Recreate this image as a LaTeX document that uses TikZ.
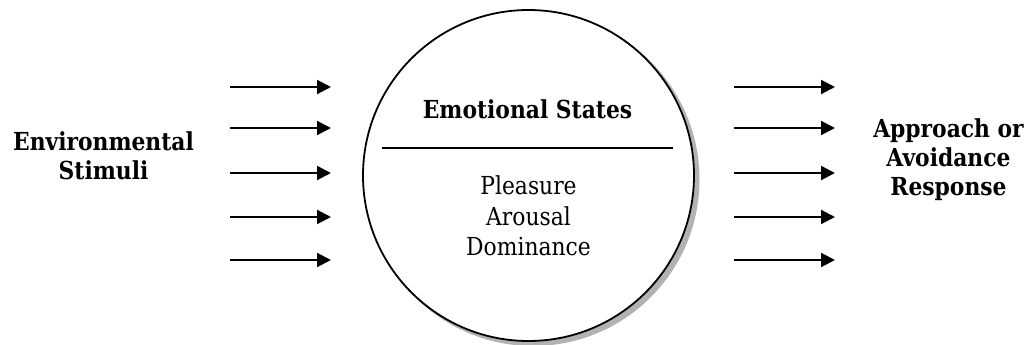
\documentclass[tikz,border=0pt]{standalone}
\usepackage{fontspec}
\setmainfont{DejaVu Serif}[FakeStretch=0.88]
\usetikzlibrary{arrows.meta}
\begin{document}
\begin{tikzpicture}[x=1pt,y=-1pt,
  arr/.style={line width=2pt,-{Triangle[length=14pt,width=14pt]}},
  lbl/.style={font=\fontsize{24.8}{29}\selectfont\bfseries,align=center,inner sep=0pt},
  inner/.style={font=\fontsize{24.8}{30.5}\selectfont,align=center,inner sep=0pt}]
\useasboundingbox (0,0) rectangle (1029,345);
% circle with shadow
\fill[gray!60] (533,179.5) circle (166.5);
\node[circle,draw=black,fill=white,line width=1.8pt,minimum size=331pt,inner sep=0pt] (c) at (528.5,175.5) {};
\node[lbl,anchor=base] (es) at (527.5,118) {Emotional States};
\coordinate (la) at (382,148);
\coordinate (lb) at (673,148);
\draw[line width=1.5pt] (la) -- (lb);
\node[inner] (pad) at (528.5,216) {Pleasure\\Arousal\\Dominance};
% side labels
\node[lbl] (env) at (103.5,156) {Environmental\\Stimuli};
\node[lbl] (resp) at (948.5,160) {Approach or\\Avoidance\\Response};
% arrows
\foreach \i/\y in {1/87,2/128,3/173,4/217,5/260}{
  \coordinate (ls\i) at (230,\y);
  \coordinate (le\i) at (331,\y);
  \coordinate (rs\i) at (734,\y);
  \coordinate (re\i) at (835,\y);
  \draw[arr] (ls\i) -- (le\i);
  \draw[arr] (rs\i) -- (re\i);
}
\end{tikzpicture}
\end{document}
